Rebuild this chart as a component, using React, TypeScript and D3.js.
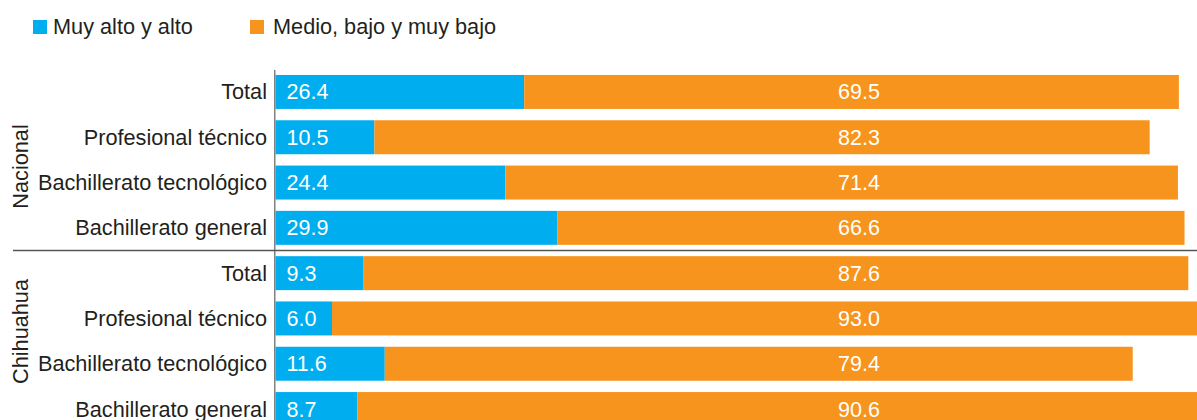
import React from "react";
import * as d3 from "d3";

const groups = ["Nacional", "Nacional", "Nacional", "Nacional", "Chihuahua", "Chihuahua", "Chihuahua", "Chihuahua"];
const categories = ["Total", "Profesional técnico", "Bachillerato tecnológico", "Bachillerato general", "Total", "Profesional técnico", "Bachillerato tecnológico", "Bachillerato general"];
const altoValues = [26.4, 10.5, 24.4, 29.9, 9.3, 6.0, 11.6, 8.7];
const medioValues = [69.5, 82.3, 71.4, 66.6, 87.6, 93.0, 79.4, 90.6];
const seriesNames = ["Muy alto y alto", "Medio, bajo y muy bajo"];
const groupNames = ["Nacional", "Chihuahua"];

const W = 1197;
const H = 420;
const BLUE = "#00AEEF";
const ORANGE = "#F7941D";
const TEXT = "#231F20";
const FONT = "'Liberation Sans', Arial, sans-serif";

export default function App() {
  const keys = categories.map((_, i) => String(i));
  const x = d3.scaleLinear().domain([0, 100]).range([275.5, 1217.5]);
  const y = d3.scaleBand().domain(keys).range([69.3, 69.3 + 8 * 45.3]).paddingInner(0.25).paddingOuter(0.125);
  const bw = y.bandwidth();
  const sepY = ((y("3") as number) + bw + (y("4") as number)) / 2;
  const groupLabelY: Record<string, number> = { Nacional: 166.5, Chihuahua: 331.5 };
  const orangeLabelX = 859;

  return (
    <svg width={W} height={H} style={{ position: "absolute", left: 0, top: 0, background: "#fff" }} fontFamily={FONT}>
      {/* legend */}
      <g>
        <rect x={33} y={20} width={14} height={14} fill={BLUE} />
        <text x={53} y={34} fontSize={21.7} fill={TEXT}>{seriesNames[0]}</text>
        <rect x={250} y={20} width={14} height={14} fill={ORANGE} />
        <text x={273} y={34} fontSize={21.7} fill={TEXT}>{seriesNames[1]}</text>
      </g>
      {/* bars */}
      {keys.map((k, i) => {
        const y0 = y(k) as number;
        const a = altoValues[i];
        const m = medioValues[i];
        return (
          <g key={k}>
            <rect x={x(0)} y={y0} width={x(a) - x(0)} height={bw} fill={BLUE} />
            <rect x={x(a)} y={y0} width={x(a + m) - x(a)} height={bw} fill={ORANGE} />
            <text x={x(0) + 11} y={y0 + bw / 2 + 7.5} fontSize={21.5} fill="#fff">{a.toFixed(1)}</text>
            <text x={orangeLabelX} y={y0 + bw / 2 + 7.5} fontSize={21.5} fill="#fff" textAnchor="middle">{m.toFixed(1)}</text>
            <text x={267} y={y0 + bw / 2 + 7.5} fontSize={21.7} fill={TEXT} textAnchor="end">{categories[i]}</text>
          </g>
        );
      })}
      {/* axis line */}
      <line x1={274.75} x2={274.75} y1={70} y2={H} stroke="#808080" strokeWidth={1.5} />
      {/* separator */}
      <line x1={13} x2={W} y1={sepY} y2={sepY} stroke="#555" strokeWidth={1.6} />
      {/* group labels */}
      {groupNames.map((g) => (
        <text key={g} transform={`translate(28,${groupLabelY[g]}) rotate(-90)`} fontSize={21.7} fill={TEXT} textAnchor="middle">{g}</text>
      ))}
    </svg>
  );
}
